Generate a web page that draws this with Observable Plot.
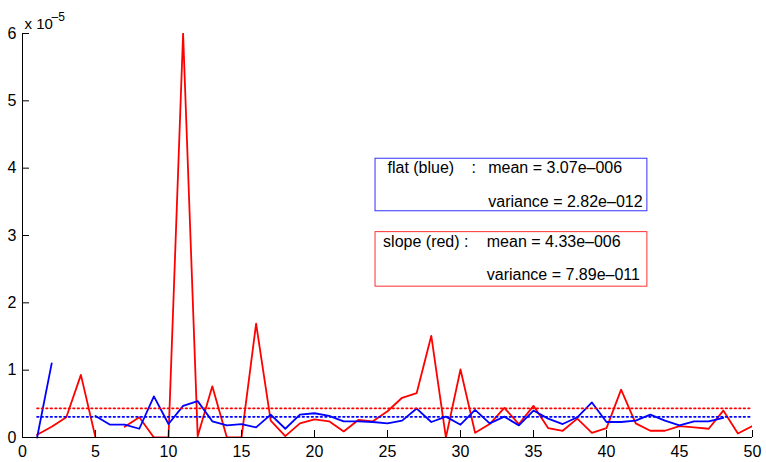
<!DOCTYPE html>
<html><head><meta charset="utf-8">
<script src="https://cdn.jsdelivr.net/npm/d3@7"></script>
<script src="https://cdn.jsdelivr.net/npm/@observablehq/plot@0.6"></script>
<style>html,body{margin:0;padding:0;background:#fff;}</style>
</head><body><div id="chart"></div>
<script>
// sample index 1..50
const steps = [1,2,3,4,5,6,7,8,9,10,11,12,13,14,15,16,17,18,19,20,21,22,23,24,25,26,27,28,29,30,31,32,33,34,35,36,37,38,39,40,41,42,43,44,45,46,47,48,49,50];
// values in units of 1e-5 (null = gap)
const flatBlue = [0,1.10,null,null,0.32,0.19,0.19,0.13,0.61,0.20,0.47,0.54,0.24,0.18,0.20,0.15,0.34,0.13,0.34,0.36,0.32,0.24,0.24,0.23,0.21,0.25,0.43,0.23,0.31,0.19,0.41,0.21,0.31,0.18,0.40,0.28,0.20,0.30,0.52,0.23,0.23,0.25,0.34,0.25,0.18,0.24,0.24,0.29,null,null];
const slopeRed = [0.04,0.16,0.30,0.93,0,null,0.16,0.30,0,0,6.0,0.02,0.76,0,0,1.69,0.25,0.02,0.21,0.27,0.24,0.09,0.26,0.24,0.39,0.59,0.66,1.51,0,1.01,0.07,0.20,0.44,0.20,0.47,0.14,0.10,0.28,0.07,0.14,0.71,0.21,0.10,0.10,0.17,0.15,0.13,0.40,0.06,0.17];
const meanFlat = 0.307;
const meanSlope = 0.433;
const xTicks = [0,5,10,15,20,25,30,35,40,45,50];
const yTicks = [0,1,2,3,4,5,6];
const annoText = ["flat (blue)", ":", "mean = 3.07e\u2013006", "variance = 2.82e\u2013012", "slope (red) :", "mean = 4.33e\u2013006", "variance = 7.89e\u2013011"];
const annoX = [25.0, 30.75, 31.9, 31.9, 24.7, 31.8, 31.8];
const annoY = [4.01, 4.01, 4.01, 3.50, 2.90, 2.90, 2.41];
const boxX1 = [24.18, 24.18], boxX2 = [42.8, 42.8], boxY1 = [3.36, 2.24], boxY2 = [4.14, 3.05];
const boxColor = ["#3030ff", "#ff3030"];

const blueData = steps.map((s,i)=>({x:s, y:flatBlue[i]}));
const redData = steps.map((s,i)=>({x:s, y:slopeRed[i]}));
const anno = annoText.map((t,i)=>({t, x:annoX[i], y:annoY[i]}));
const boxes = boxX1.map((_,i)=>({x1:boxX1[i], x2:boxX2[i], y1:boxY1[i], y2:boxY2[i], c:boxColor[i]}));
const font = "'Liberation Sans', Arial, Helvetica, sans-serif";

const chart = Plot.plot({
  width: 766, height: 462,
  marginLeft: 22, marginRight: 14, marginTop: 33, marginBottom: 25,
  style: {fontFamily: font, fontSize: "16px", background: "#fff", overflow: "visible"},
  x: {domain: [0,50]},
  y: {domain: [0,6]},
  marks: [
    Plot.line(redData, {x:"x", y:"y", stroke:"#ff0000", strokeWidth:1.8, clip:true}),
    Plot.line(blueData, {x:"x", y:"y", stroke:"#0000ff", strokeWidth:1.8}),
    Plot.line([{x:1,y:meanSlope},{x:50,y:meanSlope}], {x:"x", y:"y", stroke:"#ff0000", strokeWidth:1.8, strokeDasharray:"1.5,3"}),
    Plot.line([{x:1,y:meanFlat},{x:50,y:meanFlat}], {x:"x", y:"y", stroke:"#0000ff", strokeWidth:1.8, strokeDasharray:"1.5,3"}),
    Plot.rect(boxes, {x1:"x1", x2:"x2", y1:"y1", y2:"y2", fill:"white", stroke:"c", strokeWidth:1}),
    Plot.text(anno, {x:"x", y:"y", text:"t", textAnchor:"start", fontSize:16, fill:"black"}),
    Plot.ruleX([0], {stroke:"black", strokeWidth:1}),
    Plot.ruleY([0], {stroke:"black", strokeWidth:1}),
    Plot.axisX({ticks: xTicks, tickSize: -7, tickPadding: 15, tickFormat: d=>String(d), fontSize: 16, label: null}),
    Plot.axisY({ticks: yTicks, tickSize: -7, tickPadding: 13, tickFormat: d=>String(d), fontSize: 16, label: null}),
    Plot.text(["x 10"], {frameAnchor:"top-left", dx:2, dy:-5, lineAnchor:"bottom", textAnchor:"start", fontSize:15}),
    Plot.text(["\u20135"], {frameAnchor:"top-left", dx:29, dy:-13, lineAnchor:"bottom", textAnchor:"start", fontSize:12})
  ]
});
document.getElementById("chart").appendChild(chart);
</script>
</body></html>
